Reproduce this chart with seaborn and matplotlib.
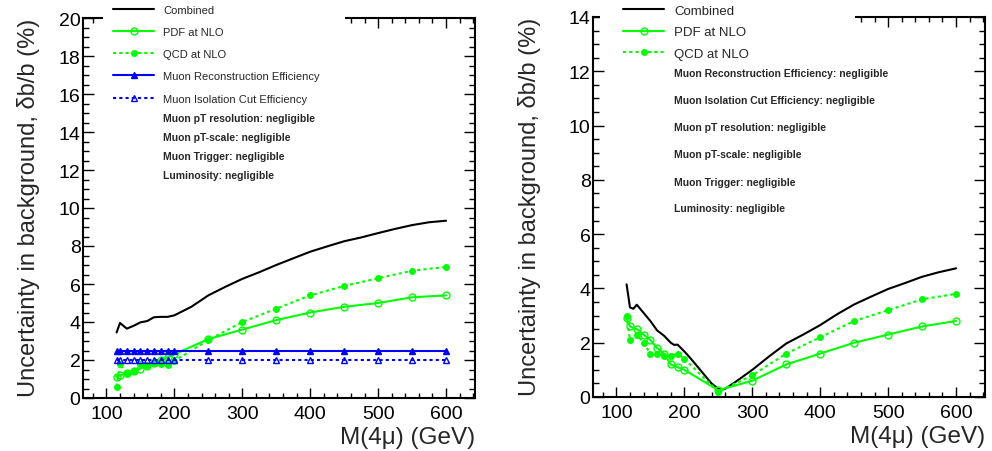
import matplotlib
matplotlib.use("Agg")
import matplotlib.pyplot as plt
from matplotlib.patches import Rectangle
from matplotlib.ticker import MultipleLocator
import seaborn as sns

# ---- data ----
mass_pts = [115, 120, 130, 140, 150, 160, 170, 180, 190, 200,
            250, 300, 350, 400, 450, 500, 550, 600]
mass_comb = [115, 120, 130, 140, 150, 160, 170, 180, 190, 200,
             225, 250, 275, 300, 325, 350, 375, 400, 425, 450,
             475, 500, 525, 550, 575, 600]

# left panel
comb_left = [3.45, 3.95, 3.65, 3.8, 3.98, 4.05, 4.25, 4.27, 4.27, 4.35,
             4.8, 5.4, 5.85, 6.27, 6.62, 7.0, 7.35, 7.7, 7.98, 8.25,
             8.45, 8.68, 8.9, 9.1, 9.25, 9.33]
pdf_left = [1.1, 1.2, 1.3, 1.4, 1.55, 1.7, 1.85, 2.0, 2.15, 2.3,
            3.1, 3.6, 4.1, 4.5, 4.8, 5.0, 5.3, 5.4]
qcd_left = [0.6, 1.8, 1.25, 1.4, 1.8, 1.75, 1.85, 1.8, 1.73, 1.95,
            3.05, 4.0, 4.7, 5.4, 5.9, 6.3, 6.7, 6.9]
reco_left = [2.5] * len(mass_pts)
iso_left = [2.0] * len(mass_pts)

# right panel
comb_right_x = [115, 120, 125, 130, 140, 150, 160, 170, 180, 185, 190, 200,
                210, 220, 230, 240, 250, 255, 260, 275, 300, 325, 350, 375,
                400, 425, 450, 475, 500, 525, 550, 575, 600]
comb_right = [4.15, 3.3, 3.25, 3.4, 3.1, 2.8, 2.45, 2.26, 2.0, 1.92, 1.93, 1.68,
              1.4, 1.1, 0.8, 0.5, 0.3, 0.27, 0.3, 0.55, 1.0, 1.5, 1.97, 2.3,
              2.65, 3.05, 3.41, 3.7, 3.98, 4.2, 4.43, 4.6, 4.74]
pdf_right = [2.9, 2.6, 2.5, 2.3, 2.1, 1.8, 1.6, 1.2, 1.1, 1.0,
             0.25, 0.6, 1.2, 1.6, 2.0, 2.3, 2.6, 2.8]
qcd_right = [3.0, 2.1, 2.3, 2.0, 1.6, 1.6, 1.5, 1.5, 1.6, 1.4,
             0.2, 0.8, 1.6, 2.2, 2.8, 3.2, 3.6, 3.8]

notes_left = ["Muon pT resolution: negligible", "Muon pT-scale: negligible",
              "Muon Trigger: negligible", "Luminosity: negligible"]
notes_right = ["Muon Reconstruction Efficiency: negligible",
               "Muon Isolation Cut Efficiency: negligible",
               "Muon pT resolution: negligible", "Muon pT-scale: negligible",
               "Muon Trigger: negligible", "Luminosity: negligible"]

GREEN = "#00ff00"
BLUE = "#0000ff"

sns.set_style("ticks")
plt.rcParams["font.family"] = ["Liberation Sans", "DejaVu Sans"]

fig = plt.figure(figsize=(9.92, 4.52), dpi=100)
ax_l = fig.add_axes([83.3 / 992, 1 - 399 / 452, 392 / 992, 380 / 452])
ax_r = fig.add_axes([593.3 / 992, 1 - 398 / 452, 392 / 992, 380 / 452])


def draw(ax, x, y, label, color, ls="-", marker=None, mfc=None, ms=4.5):
    kw = dict(color=color, linestyle=ls, linewidth=1.5, label=label)
    if marker:
        kw.update(marker=marker, markersize=ms, markeredgecolor=color,
                  markerfacecolor=mfc if mfc else color, markeredgewidth=1.0)
    sns.lineplot(x=x, y=y, ax=ax, sort=False, **kw)


dot = (0, (1.5, 1.5))

draw(ax_l, mass_comb, comb_left, "Combined", "black")
draw(ax_l, mass_pts, pdf_left, "PDF at NLO", GREEN, "-", "o", "none", 5)
draw(ax_l, mass_pts, qcd_left, "QCD at NLO", GREEN, dot, "o", None, 4)
draw(ax_l, mass_pts, reco_left, "Muon Reconstruction Efficiency", BLUE, "-", "^", None, 4)
draw(ax_l, mass_pts, iso_left, "Muon Isolation Cut Efficiency", BLUE, dot, "^", "none", 4.5)

draw(ax_r, comb_right_x, comb_right, "Combined", "black")
draw(ax_r, mass_pts, pdf_right, "PDF at NLO", GREEN, "-", "o", "none", 5)
draw(ax_r, mass_pts, qcd_right, "QCD at NLO", GREEN, dot, "o", None, 4)

ylabel = "Uncertainty in background, δb/b (%)"
for ax, ymax, lab_x in [(ax_l, 20, -0.110), (ax_r, 14, -0.134)]:
    ax.set_xlim(66, 643)
    ax.set_ylim(0, ymax)
    ax.xaxis.set_major_locator(MultipleLocator(100))
    ax.xaxis.set_minor_locator(MultipleLocator(20))
    ax.yaxis.set_major_locator(MultipleLocator(2))
    ax.yaxis.set_minor_locator(MultipleLocator(0.5))
    ax.tick_params(axis="both", which="both", direction="in",
                   top=True, right=True, width=1.0, colors="black")
    ax.tick_params(axis="x", which="major", length=7, labelsize=14, pad=5)
    ax.tick_params(axis="x", which="minor", length=3.5)
    ax.tick_params(axis="y", which="major", length=8, labelsize=14, pad=2)
    ax.tick_params(axis="y", which="minor", length=4)
    for s in ax.spines.values():
        s.set_linewidth(1.5)
        s.set_color("black")
    ax.set_xlabel("M(4μ) (GeV)", fontsize=17.5, loc="right")
    ax.xaxis.set_label_coords(1.0, -0.075)
    ax.set_ylabel(ylabel, fontsize=17, loc="top")
    ax.yaxis.set_label_coords(lab_x, 1.0)

# legends (the white box hides the top frame, as in the original)
leg_l = ax_l.legend(loc="upper left", bbox_to_anchor=(0.076, 1.035),
                    frameon=False, fontsize=8, borderpad=0, borderaxespad=0,
                    handlelength=3.7, handletextpad=0.8, labelspacing=1.1,
                    numpoints=1)
leg_r = ax_r.legend(loc="upper left", bbox_to_anchor=(0.076, 1.033),
                    frameon=False, fontsize=9.5, borderpad=0, borderaxespad=0,
                    handlelength=3.1, handletextpad=0.75, labelspacing=0.7,
                    numpoints=1)
for ax, x0, x1 in [(ax_l, 0.05, 0.668), (ax_r, 0.017, 0.667)]:
    ax.add_patch(Rectangle((x0, 0.965), x1 - x0, 0.06, transform=ax.transAxes,
                           facecolor="white", edgecolor="none", zorder=4,
                           clip_on=False))

for txt, y in zip(notes_left, [0.737, 0.687, 0.637, 0.587]):
    ax_l.text(0.203, y, txt, transform=ax_l.transAxes, fontsize=7.5,
              fontweight="bold", va="center", ha="left")
for txt, y in zip(notes_right, [0.853, 0.782, 0.711, 0.639, 0.566, 0.497]):
    ax_r.text(0.206, y, txt, transform=ax_r.transAxes, fontsize=7.5,
              fontweight="bold", va="center", ha="left")

fig.savefig("out.png", dpi=100)
